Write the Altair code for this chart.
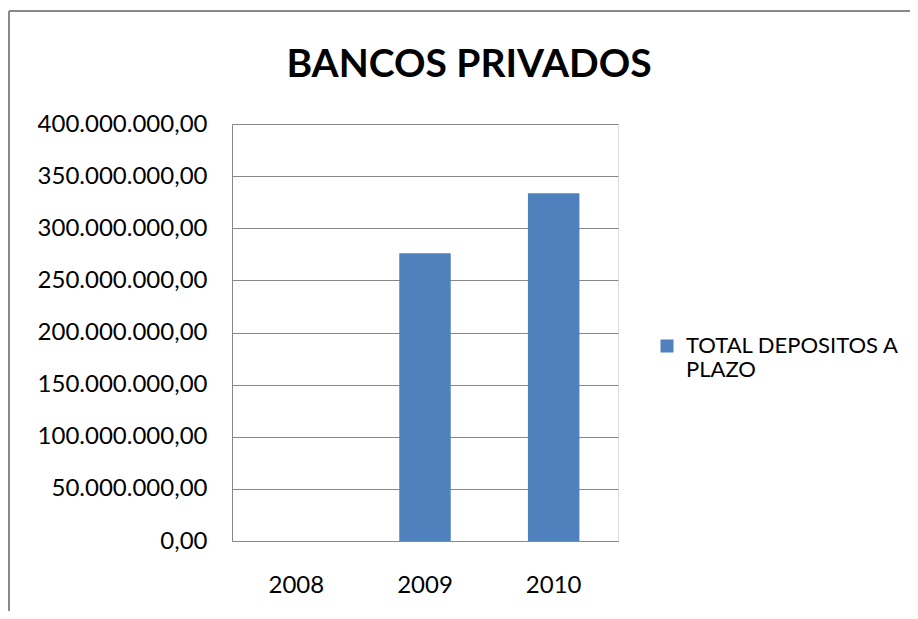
import altair as alt
import pandas as pd

# ---- data ----
YEARS = ["2008", "2009", "2010"]
VALUES = [0, 276000000, 333500000]
SERIES = "TOTAL DEPOSITOS A PLAZO"
Y_TICKS = [0, 50000000, 100000000, 150000000, 200000000,
           250000000, 300000000, 350000000, 400000000]
TITLE = "BANCOS PRIVADOS"
LEGEND_LINES = ["TOTAL DEPOSITOS A", "PLAZO"]

df = pd.DataFrame({"anio": YEARS, "valor": VALUES, "serie": [SERIES] * len(YEARS)})

FONT = "Lato"
BLUE = "#4f81bd"
GRAY = "#888888"

label_expr = ("replace(replace(replace(format(datum.value, ',.2f'), "
              "regexp(',', 'g'), '#'), regexp('\\\\.', 'g'), ','), regexp('#', 'g'), '.')")

legend_expr = "[" + ",".join("'" + s + "'" for s in LEGEND_LINES) + "]"

bars = alt.Chart(df).mark_bar(color=BLUE).encode(
    x=alt.X("anio:N", sort=YEARS, title=None,
            scale=alt.Scale(domain=YEARS, paddingInner=0.6, paddingOuter=0.3),
            axis=alt.Axis(labelAngle=0, ticks=False, labelPadding=32,
                          labelFont=FONT, labelFontSize=24, labelColor="#000000",
                          domainColor=GRAY, domainWidth=1)),
    y=alt.Y("valor:Q", title=None,
            scale=alt.Scale(domain=[0, 400000000], nice=False),
            axis=alt.Axis(values=Y_TICKS, labelExpr=label_expr, ticks=False,
                          labelPadding=25, labelFont=FONT, labelFontSize=24,
                          labelColor="#000000", domainColor=GRAY, domainWidth=1,
                          gridColor=GRAY, gridWidth=1, gridOpacity=1)),
    color=alt.Color("serie:N", title=None,
                    scale=alt.Scale(domain=[SERIES], range=[BLUE]),
                    legend=alt.Legend(orient="none", legendX=424, legendY=211,
                                      symbolType="square", symbolSize=169,
                                      symbolStrokeWidth=0, padding=0,
                                      labelFont=FONT, labelFontSize=22,
                                      labelColor="#000000", labelOffset=8,
                                      labelBaseline="middle", labelLimit=400,
                                      labelExpr=legend_expr)),
)

frame_data = alt.Data(values=[{"k": 1}])
left_border = alt.Chart(frame_data).mark_rule(color=GRAY, strokeWidth=2).encode(
    x=alt.value(-223), y=alt.value(-113), y2=alt.value(600))
top_border = alt.Chart(frame_data).mark_rule(color=GRAY, strokeWidth=2).encode(
    x=alt.value(-223), x2=alt.value(700), y=alt.value(-113))
title_text = alt.Chart(frame_data).mark_text(
    font=FONT, fontSize=39, fontWeight="bold", color="#000000",
    align="center", baseline="alphabetic").encode(
    x=alt.value(237), y=alt.value(-47), text=alt.value(TITLE))

chart = alt.layer(bars, left_border, top_border, title_text).properties(
    width=386, height=417,
    autosize=alt.AutoSizeParams(type="none"),
    padding={"left": 224, "top": 116, "right": 292, "bottom": 70},
).configure_view(strokeWidth=0).configure(background="#ffffff")

chart.save("out.html", embed_options={"renderer": "svg", "actions": False})
